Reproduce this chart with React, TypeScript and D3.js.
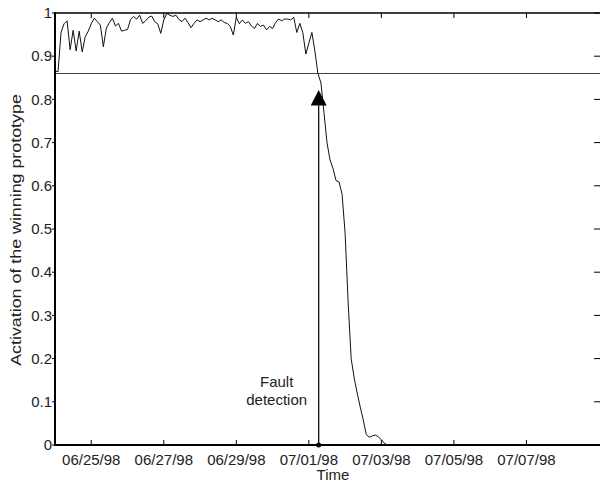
import { useEffect, useRef } from 'react';
import * as d3 from 'd3';

// series: one reading every 2 hours from 06/24/98 00:00
const startTime = new Date(1998, 5, 24, 0, 0);
const stepHours = 2;
const activation = [
  0.866, 0.864, 0.955, 0.975, 0.982, 0.915, 0.96, 0.912, 0.958, 0.91,
  0.945, 0.958, 0.975, 0.988, 0.98, 0.972, 0.922, 0.965, 0.978, 0.988,
  0.97, 0.976, 0.958, 0.96, 0.962, 0.985, 0.992, 0.986, 0.995, 0.976,
  0.982, 0.99, 0.993, 0.98, 0.975, 0.953, 0.984, 0.999, 0.995, 0.992,
  0.995, 0.985, 0.98, 0.988, 0.978, 0.966, 0.976, 0.984, 0.98, 0.984,
  0.988, 0.984, 0.988, 0.984, 0.98, 0.984, 0.978, 0.976, 0.969, 0.949,
  0.99, 0.975, 0.984, 0.976, 0.98, 0.97, 0.964, 0.976, 0.969, 0.972,
  0.961, 0.969, 0.964, 0.978, 0.986, 0.982, 0.986, 0.986, 0.984, 0.99,
  0.955, 0.976, 0.955, 0.905, 0.93, 0.955, 0.912, 0.86, 0.838, 0.77,
  0.7, 0.66, 0.64, 0.612, 0.609, 0.58, 0.49, 0.33, 0.2, 0.155,
  0.12, 0.088, 0.058, 0.024, 0.018, 0.021, 0.023, 0.019, 0.012, 0.004,
  0,
];

// axes
const timeDomain = [new Date(1998, 5, 24, 0, 0), new Date(1998, 6, 9, 2, 0)];
const xTickLabels = ['06/25/98', '06/27/98', '06/29/98', '07/01/98', '07/03/98', '07/05/98', '07/07/98'];
const yTicks = [0, 0.1, 0.2, 0.3, 0.4, 0.5, 0.6, 0.7, 0.8, 0.9, 1];
const xTitle = 'Time';
const yTitle = 'Activation of the winning prototype';

// annotations
const threshold = 0.86;
const faultTime = new Date(1998, 6, 1, 6, 30);
const arrowTip = 0.822;
const arrowBase = 0.786;
const faultLabel = ['Fault', 'detection'];

const FONT = '"Liberation Sans", Arial, Helvetica, sans-serif';

export default function App() {
  const ref = useRef<SVGSVGElement | null>(null);

  useEffect(() => {
    const svg = d3.select(ref.current);
    svg.selectAll('*').remove();

    const left = 55, right = 602, top = 13, bottom = 445;
    const x = d3.scaleTime().domain(timeDomain).range([left, right]);
    const y = d3.scaleLinear().domain([0, 1]).range([bottom, top]);
    const parse = d3.timeParse('%m/%d/%y');
    const fmt = d3.timeFormat('%m/%d/%y');
    const tickDates = xTickLabels.map((s) => parse(s) as Date);

    const points = activation.map((v, i) => ({
      t: d3.timeHour.offset(startTime, i * stepHours),
      v,
    }));

    // threshold line
    svg.append('line')
      .attr('x1', left).attr('x2', right)
      .attr('y1', y(threshold)).attr('y2', y(threshold))
      .attr('stroke', '#444').attr('stroke-width', 1.2);

    // series
    const line = d3.line<{ t: Date; v: number }>()
      .x((d) => x(d.t))
      .y((d) => y(d.v));
    svg.append('path')
      .datum(points)
      .attr('d', line)
      .attr('fill', 'none')
      .attr('stroke', '#111')
      .attr('stroke-width', 1)
      .attr('stroke-linejoin', 'round');

    // fault detection marker
    const fx = x(faultTime);
    svg.append('line')
      .attr('x1', fx).attr('x2', fx)
      .attr('y1', y(0)).attr('y2', y(arrowBase))
      .attr('stroke', '#111').attr('stroke-width', 1.3);
    const tri = d3.path();
    tri.moveTo(fx, y(arrowTip));
    tri.lineTo(fx - 8, y(arrowBase));
    tri.lineTo(fx + 8, y(arrowBase));
    tri.closePath();
    svg.append('path').attr('d', tri.toString()).attr('fill', '#000');
    svg.append('circle').attr('cx', fx).attr('cy', y(0)).attr('r', 2.5).attr('fill', '#000');

    svg.append('g')
      .selectAll('text')
      .data(faultLabel)
      .enter()
      .append('text')
      .attr('x', fx - 42)
      .attr('y', (d, i) => 382 + i * 18)
      .attr('dy', '0.35em')
      .attr('text-anchor', 'middle')
      .attr('font-family', FONT)
      .attr('font-size', 15)
      .attr('fill', '#222')
      .text((d) => d);

    // frame
    svg.append('line').attr('x1', left).attr('x2', right).attr('y1', top).attr('y2', top)
      .attr('stroke', '#000').attr('stroke-width', 1.5);
    svg.append('line').attr('x1', left).attr('x2', left).attr('y1', top - 0.75).attr('y2', bottom + 1)
      .attr('stroke', '#000').attr('stroke-width', 2);
    svg.append('line').attr('x1', left - 1).attr('x2', right).attr('y1', bottom).attr('y2', bottom)
      .attr('stroke', '#000').attr('stroke-width', 2.2);

    // x ticks (bottom and top, pointing inward)
    const xt = svg.append('g');
    tickDates.forEach((d) => {
      xt.append('line').attr('x1', x(d)).attr('x2', x(d)).attr('y1', bottom).attr('y2', bottom - 5)
        .attr('stroke', '#000').attr('stroke-width', 1);
      xt.append('line').attr('x1', x(d)).attr('x2', x(d)).attr('y1', top).attr('y2', top + 5)
        .attr('stroke', '#000').attr('stroke-width', 1);
      xt.append('text')
        .attr('x', x(d)).attr('y', 460).attr('dy', '0.35em')
        .attr('text-anchor', 'middle')
        .attr('font-family', FONT).attr('font-size', 15).attr('fill', '#222')
        .text(fmt(d));
    });

    // y ticks (left outward, right inward)
    const yt = svg.append('g');
    yTicks.forEach((v) => {
      yt.append('line').attr('x1', left - 3).attr('x2', left).attr('y1', y(v)).attr('y2', y(v))
        .attr('stroke', '#000').attr('stroke-width', 1);
      yt.append('line').attr('x1', right - 8).attr('x2', right).attr('y1', y(v)).attr('y2', y(v))
        .attr('stroke', '#000').attr('stroke-width', 1);
      yt.append('text')
        .attr('x', left - 3).attr('y', y(v)).attr('dy', '0.35em')
        .attr('text-anchor', 'end')
        .attr('font-family', FONT).attr('font-size', 15).attr('fill', '#222')
        .text(d3.format('')(v));
    });

    // titles
    svg.append('text')
      .attr('x', 333).attr('y', 475).attr('dy', '0.35em')
      .attr('text-anchor', 'middle')
      .attr('font-family', FONT).attr('font-size', 15).attr('fill', '#222')
      .text(xTitle);
    svg.append('text')
      .attr('transform', `translate(16, ${(top + bottom) / 2 + 1}) rotate(-90) scale(1.19, 1)`)
      .attr('dy', '0.35em')
      .attr('text-anchor', 'middle')
      .attr('font-family', FONT).attr('font-size', 15).attr('fill', '#222')
      .text(yTitle);
  }, []);

  return (
    <svg
      ref={ref}
      width={600}
      height={482}
      style={{ position: 'absolute', left: 0, top: 0, background: '#fff' }}
    />
  );
}
